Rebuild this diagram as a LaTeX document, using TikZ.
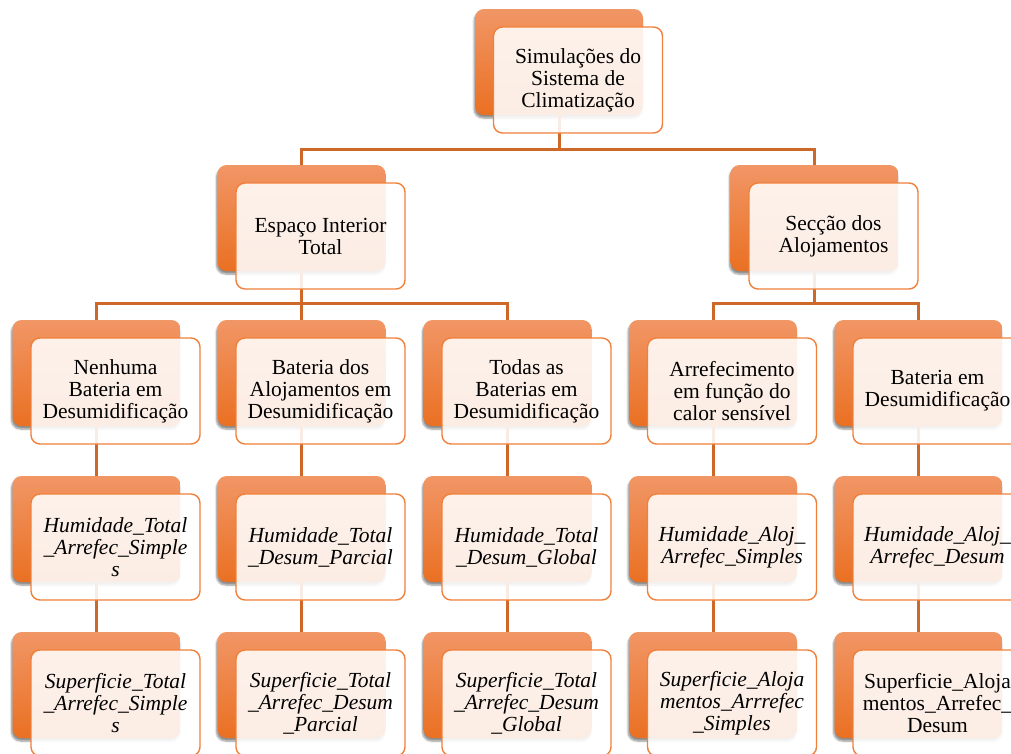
\documentclass[tikz,border=0pt]{standalone}
\usepackage{fontspec}
\setmainfont{Liberation Serif}
\usetikzlibrary{shadows.blur}

\definecolor{boxtop}{RGB}{241,150,102}
\definecolor{boxbot}{RGB}{234,112,34}
\definecolor{boxline}{RGB}{240,128,58}
\definecolor{linkcol}{RGB}{206,104,40}

\tikzset{every node/.style={font=\fontsize{21.5}{22}\selectfont}}
\tikzset{backbox/.style={rounded corners=9pt, minimum width=168pt, minimum height=106pt,
    top color=boxtop, bottom color=boxbot,
    blur shadow={shadow xshift=-1pt, shadow yshift=-3pt, shadow blur steps=6, shadow opacity=45}}}
\tikzset{frontbox/.style={rounded corners=9pt, minimum width=169pt, minimum height=106pt,
    draw=boxline, line width=1.4pt, fill=white, fill opacity=.88, text opacity=1,
    align=center, inner sep=2pt}}
\tikzset{itbox/.style={frontbox, font=\fontsize{21.5}{22}\selectfont\itshape}}

\begin{document}
\begin{tikzpicture}[x=1pt, y=-1pt, link/.style={draw=linkcol, line width=3pt}]
            \clip (0,0) rectangle (1011,753);
            % orange back boxes
            \node [backbox] (rootb) at (559,62) {};
            \node [backbox] (espb) at (301.5,218) {};
            \node [backbox] (secb) at (814.5,218) {};
            \node [backbox] (nenb) at (96.5,373) {};
            \node [backbox] (alob) at (301.5,373) {};
            \node [backbox] (todb) at (507.5,373) {};
            \node [backbox] (arrb) at (713,373) {};
            \node [backbox] (batb) at (918.5,373) {};
            \node [backbox] (hum1b) at (96.5,529) {};
            \node [backbox] (hum2b) at (301.5,529) {};
            \node [backbox] (hum3b) at (507.5,529) {};
            \node [backbox] (hum4b) at (713,529) {};
            \node [backbox] (hum5b) at (918.5,529) {};
            \node [backbox] (sup1b) at (96.5,685) {};
            \node [backbox] (sup2b) at (301.5,685) {};
            \node [backbox] (sup3b) at (507.5,685) {};
            \node [backbox] (sup4b) at (713,685) {};
            \node [backbox] (sup5b) at (918.5,685) {};

            % connectors
            \draw [link] (rootb.south) -- ++(0,34) -| (espb.north);
            \draw [link] (rootb.south) -- ++(0,34) -| (secb.north);
            \draw [link] (espb.south) -- ++(0,32) -| (nenb.north);
            \draw [link] (espb.south) -- (alob.north);
            \draw [link] (espb.south) -- ++(0,32) -| (todb.north);
            \draw [link] (secb.south) -- ++(0,32) -| (arrb.north);
            \draw [link] (secb.south) -- ++(0,32) -| (batb.north);
            \draw [link] (nenb.south) -- (hum1b.north);
            \draw [link] (alob.south) -- (hum2b.north);
            \draw [link] (todb.south) -- (hum3b.north);
            \draw [link] (arrb.south) -- (hum4b.north);
            \draw [link] (batb.south) -- (hum5b.north);
            \draw [link] (hum1b.south) -- (sup1b.north);
            \draw [link] (hum2b.south) -- (sup2b.north);
            \draw [link] (hum3b.south) -- (sup3b.north);
            \draw [link] (hum4b.south) -- (sup4b.north);
            \draw [link] (hum5b.south) -- (sup5b.north);

            % white front boxes with the texts
            \node [frontbox] (root) at ([shift={(19,18)}]rootb) {Simulações do\\Sistema de\\Climatização};
            \node [frontbox] (esp) at ([shift={(19,18)}]espb) {Espaço Interior\\Total};
            \node [frontbox] (sec) at ([shift={(19,18)}]secb) {Secção dos\\Alojamentos};
            \node [frontbox] (nen) at ([shift={(19,18)}]nenb) {Nenhuma\\Bateria em\\Desumidificação};
            \node [frontbox] (alo) at ([shift={(19,18)}]alob) {Bateria dos\\Alojamentos em\\Desumidificação};
            \node [frontbox] (tod) at ([shift={(19,18)}]todb) {Todas as\\Baterias em\\Desumidificação};
            \node [frontbox] (arr) at ([shift={(19,18)}]arrb) {Arrefecimento\\em função do\\calor sensível};
            \node [frontbox] (bat) at ([shift={(19,18)}]batb) {Bateria em\\Desumidificação};
            \node [itbox] (hum1) at ([shift={(19,18)}]hum1b) {Humidade\_Total\\\_Arrefec\_Simple\\s};
            \node [itbox] (hum2) at ([shift={(19,18)}]hum2b) {Humidade\_Total\\\_Desum\_Parcial};
            \node [itbox] (hum3) at ([shift={(19,18)}]hum3b) {Humidade\_Total\\\_Desum\_Global};
            \node [itbox] (hum4) at ([shift={(19,18)}]hum4b) {Humidade\_Aloj\_\\Arrefec\_Simples};
            \node [itbox] (hum5) at ([shift={(19,18)}]hum5b) {Humidade\_Aloj\_\\Arrefec\_Desum};
            \node [itbox] (sup1) at ([shift={(19,18)}]sup1b) {Superficie\_Total\\\_Arrefec\_Simple\\s};
            \node [itbox] (sup2) at ([shift={(19,18)}]sup2b) {Superficie\_Total\\\_Arrefec\_Desum\\\_Parcial};
            \node [itbox] (sup3) at ([shift={(19,18)}]sup3b) {Superficie\_Total\\\_Arrefec\_Desum\\\_Global};
            \node [itbox] (sup4) at ([shift={(19,18)}]sup4b) {Superficie\_Aloja\\mentos\_Arrrefec\\\_Simples};
            \node [frontbox] (sup5) at ([shift={(19,18)}]sup5b) {Superficie\_Aloja\\mentos\_Arrefec\_\\Desum};
        \end{tikzpicture}
\end{document}
